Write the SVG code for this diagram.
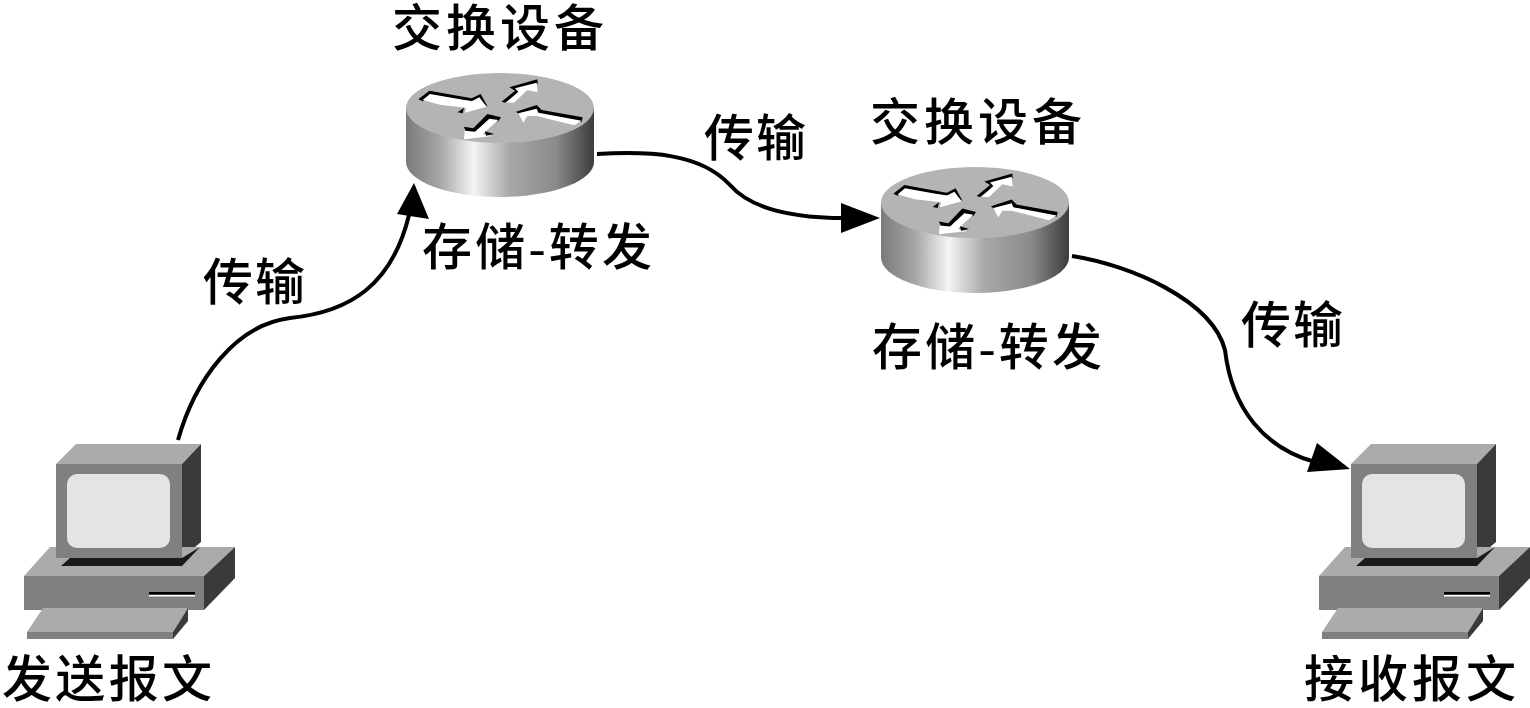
<svg xmlns="http://www.w3.org/2000/svg" width="1530" height="708" viewBox="0 0 1530 708">
<style>
text{font-family:"Liberation Serif","Noto Sans CJK SC",sans-serif;font-size:50px;font-weight:500;fill:#000}
.c{fill:none;stroke:#000;stroke-width:4}
.k{fill:#000}
.w{fill:#fff}
</style>
<defs>
<linearGradient id="cyl" x1="0" x2="1" y1="0" y2="0">
<stop offset="0" stop-color="#7a7a7a"/><stop offset=".18" stop-color="#a6a6a6"/><stop offset=".36" stop-color="#f4f4f4"/><stop offset=".55" stop-color="#a8a8a8"/><stop offset=".8" stop-color="#8a8a8a"/><stop offset="1" stop-color="#3c3c3c"/>
</linearGradient>
<g id="routerShape">
<path d="M406 108V162C406 181 448 197 500 197S594 181 594 162V108Z" fill="url(#cyl)"/>
<ellipse cx="500" cy="108" rx="94" ry="35" fill="#b4b4b4"/>
<g transform="translate(390,60) scale(.33333)">
<polygon class="k" points="85,118 118,92 245,115 272,102 293,140 268,125 120,110 98,124"/>
<polygon class="w" points="98,120 120,102 245,124 268,112 290,140 225,158 228,143 150,134"/>
<polygon class="k" points="203,157 222,143 218,160"/>
<polygon class="k" points="335,125 375,92 358,82 442,58 443,72 385,98 345,128"/>
<polygon class="w" points="350,127 385,95 375,85 440,68 443,97 412,90 372,128"/>
<polygon class="k" points="378,155 440,135 455,150 578,172 575,186 445,165 390,165"/>
<polygon class="w" points="385,160 440,146 445,158 575,182 552,196 440,168 412,168 400,188"/>
<polygon class="k" points="222,200 250,205 292,162 333,172 325,184 290,190 250,222 228,215"/>
<polygon class="w" points="224,212 255,215 298,176 325,180 278,222 308,228 222,238"/>
<polygon class="k" points="285,214 312,222 288,227"/>
</g>
</g>
<g id="pcShape">
<polygon points="56,464 76,444 201,444 182,464" fill="#ababab"/>
<polygon points="182,464 201,444 201,542 182,558" fill="#3a3a3a"/>
<polygon points="24,576 50,547 235,547 204,576" fill="#ababab"/>
<polygon points="61,566 70,558 182,558 200,547 182,566" fill="#1a1a1a"/>
<rect x="56" y="464" width="126" height="94" fill="#808080"/>
<rect x="67" y="474" width="103" height="74" rx="10" fill="#e4e4e4"/>
<rect x="24" y="576" width="180" height="34" fill="#808080"/>
<polygon points="204,576 235,547 235,578 204,610" fill="#3a3a3a"/>
<rect x="149" y="592" width="46" height="2.5" fill="#000"/>
<rect x="149" y="595" width="46" height="1.5" fill="#fff"/>
<polygon points="27,632 43,608 188,608 173,632" fill="#ababab"/>
<rect x="27" y="632" width="146" height="7" fill="#808080"/>
<polygon points="173,632 188,608 188,621 173,639" fill="#3a3a3a"/>
</g>
</defs>
<g id="connectors">
<path class="c" d="M178 440C195 380 235 325 290 318C350 312 392 285 409 215"/>
<polygon class="k" points="414,183 429,219 397,214"/>
<path class="c" d="M597 154C650 151 700 153 730 185C750 208 790 218 845 218"/>
<polygon class="k" points="880,218 841,203 841,233"/>
<path class="c" d="M1072 256C1130 265 1212 300 1225 350C1232 410 1265 448 1315 462"/>
<polygon class="k" points="1350,469 1317,443 1307,472"/>
</g>
<g id="router1"><use href="#routerShape"/><text x="392" y="46" textLength="212">交换设备</text><text x="422" y="265" textLength="230">存储-转发</text></g>
<g id="router2"><use href="#routerShape" transform="matrix(1 0 0 1.016 475 92.8)"/><text x="870" y="140" textLength="212">交换设备</text><text x="872" y="365" textLength="230">存储-转发</text></g>
<g id="pc1"><use href="#pcShape"/><text x="2" y="697" textLength="210">发送报文</text></g>
<g id="pc2"><use href="#pcShape" transform="translate(1295,0)"/><text x="1304" y="697" textLength="212">接收报文</text></g>
<g id="labels">
<text x="203" y="300" textLength="102">传输</text>
<text x="704" y="156" textLength="102">传输</text>
<text x="1241" y="343" textLength="102">传输</text>
</g>
</svg>
